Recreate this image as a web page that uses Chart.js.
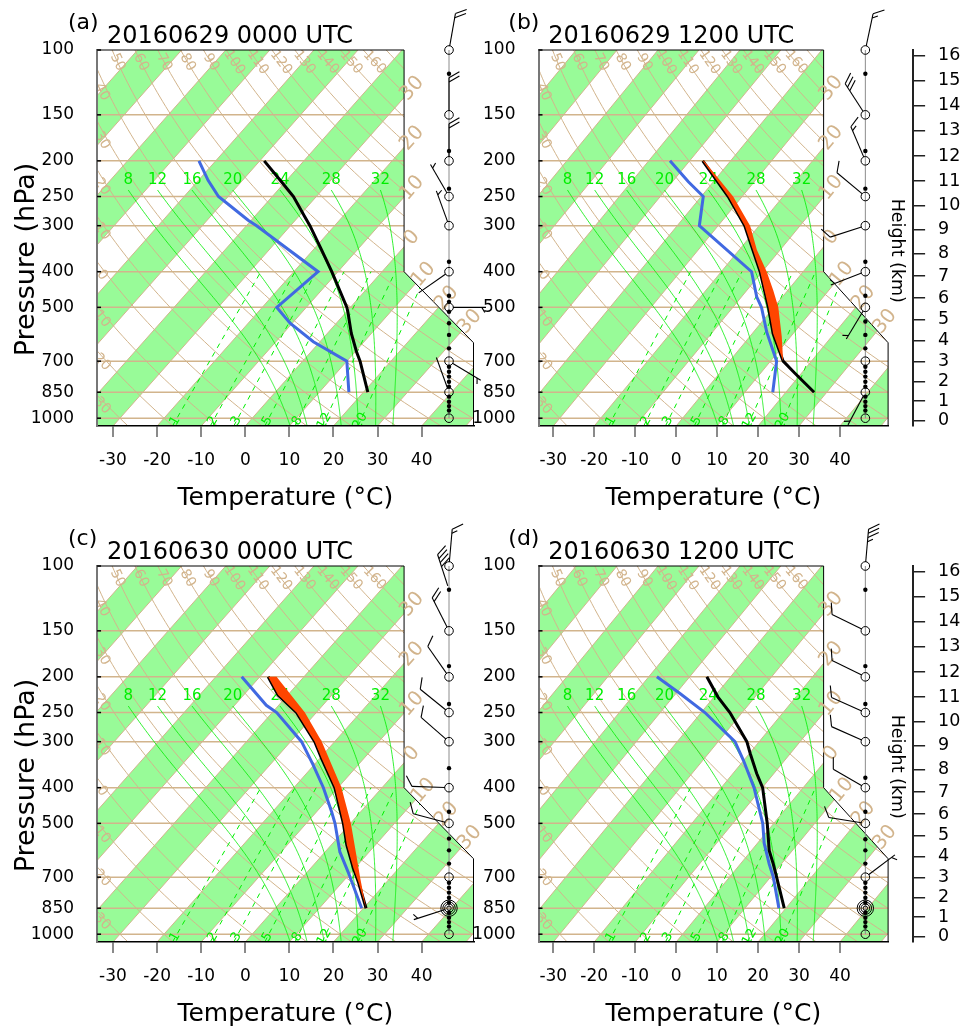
<!DOCTYPE html>
<html><head><meta charset="utf-8">
<script src="https://cdn.jsdelivr.net/npm/chart.js@4.4.1/dist/chart.umd.min.js"></script>
<style>
html,body{margin:0;padding:0;background:#fff;}
#wrap{position:relative;width:972px;height:1032px;overflow:hidden;background:#fff;}
canvas{position:absolute;}
</style></head><body><div id="wrap">
<canvas id="ca" width="486" height="516" style="left:0;top:0"></canvas>
<canvas id="cb" width="506" height="516" style="left:466px;top:0"></canvas>
<canvas id="cc" width="486" height="516" style="left:0;top:516px"></canvas>
<canvas id="cd" width="506" height="516" style="left:466px;top:516px"></canvas>
</div>
<script>
// ================= DATA =================
const pressureTicks = [100, 150, 200, 250, 300, 400, 500, 700, 850, 1000];
const temperatureTicks = [-30, -20, -10, 0, 10, 20, 30, 40];
const heightTicksKm = [0, 1, 2, 3, 4, 5, 6, 7, 8, 9, 10, 11, 12, 13, 14, 15, 16];
const heightTickPressures = [1013.25, 898.76, 795.01, 701.21, 616.60, 540.48, 472.17, 411.05, 356.51, 308.00, 264.99, 226.99, 193.99, 165.79, 141.70, 121.11, 103.52];

const mixingRatioLines = [1, 2, 3, 5, 8, 12, 20];          // g/kg
const moistAdiabatLines = [8, 12, 16, 20, 24, 28, 32];      // theta-w (C)
const dryAdiabatLeftLabels = [-30, -20, -10, 0, 10, 20, 30, 40];
const dryAdiabatTopLabels = [50, 60, 70, 80, 90, 100, 110, 120, 130, 140, 150, 160];
const isothermEdgeLabels = [-30, -20, -10, 0, 10, 20, 30];
const ringLevels = [100, 150, 200, 250, 300, 400, 500, 700, 850, 1000];

// (a) 20160629 0000 UTC
const presA = [850, 700, 660, 588, 518, 500, 400, 349, 300, 284, 250, 229, 200];
const tempA = [21.0, 13.0, 10.3, 5.4, 0.6, -0.8, -11.4, -18.1, -25.6, -28.5, -35.2, -40.6, -49.0];
const dewPresA = [850, 700, 620, 552, 500, 400, 300, 290, 250, 226, 200];
const dewA = [16.7, 10.0, -1.5, -10.5, -16.7, -14.5, -37.7, -40.7, -52.2, -57.8, -63.8];
const windPresA = [100, 150, 200, 250, 300, 400, 500, 700, 850];
const windDirA = [10, 0, 0, 330, 340, 235, 90, 121, 340];
const windSpdA = [20, 20, 20, 5, 5, 2, 5, 5, 2];
const dotPresA = [116, 188, 238, 376, 465, 483, 514, 552, 594, 646, 725, 748, 771, 796, 821, 874, 902, 927, 953];

// (b) 20160629 1200 UTC
const presB = [850, 755, 700, 589, 500, 400, 300, 250, 200];
const tempB = [26.9, 18.4, 13.1, 5.1, -1.3, -10.5, -23.5, -33.4, -46.8];
const dewPresB = [850, 700, 583, 500, 468, 400, 300, 250, 228, 200];
const dewB = [16.8, 11.5, 3.2, -3.0, -6.3, -12.6, -34.6, -39.5, -46.1, -54.8];
const parcelPresB = [700, 600, 500, 449, 400, 349, 300, 250, 200];
const parcelB = [13.1, 7.8, 1.1, -3.6, -8.9, -15.7, -22.2, -32.2, -46.5];
const windPresB = [100, 150, 200, 250, 300, 400, 500, 850];
const windDirB = [12, 327, 337, 310, 252, 249, 211, 208];
const windSpdB = [15, 30, 15, 10, 10, 5, 5, 5];
const dotPresB = [116, 188, 238, 376, 465, 546, 594, 646, 725, 748, 771, 796, 821, 874, 902, 927, 953];

// (c) 20160630 0000 UTC
const presC = [850, 720, 662, 572, 500, 400, 333, 300, 250, 224, 200];
const tempC = [20.6, 13.5, 9.7, 3.5, -1.6, -10.7, -19.6, -24.5, -34.5, -42.2, -48.1];
const dewPresC = [850, 677, 597, 500, 465, 400, 347, 300, 250, 239, 200];
const dewC = [19.6, 9.2, 3.3, -3.5, -6.6, -13.3, -20.2, -27.5, -39.0, -42.8, -54.1];
const parcelPresC = [850, 700, 600, 500, 400, 300, 250, 200];
const parcelC = [20.6, 13.0, 7.1, 0.1, -9.2, -22.9, -32.6, -46.2];
const windPresC = [100, 116, 150, 200, 250, 300, 400, 500, 850];
const windDirC = [5, 342, 333, 325, 309, 311, 272, 285, 252];
const windSpdC = [15, 40, 20, 10, 10, 10, 10, 10, 5];
const dotPresC = [116, 187, 237, 354, 465, 550, 592, 643, 725, 748, 771, 796, 821, 874, 902, 927, 953];

// (d) 20160630 1200 UTC
const presD = [850, 700, 644, 592, 500, 400, 366, 323, 300, 250, 227, 200];
const tempD = [19.6, 11.5, 8.0, 4.3, -1.6, -9.9, -14.2, -19.8, -23.0, -33.0, -39.0, -45.8];
const dewPresD = [850, 700, 644, 567, 500, 400, 337, 300, 250, 222, 200];
const dewD = [18.3, 10.7, 7.0, 1.7, -2.7, -12.0, -20.1, -25.9, -39.1, -49.0, -58.0];
const windPresD = [100, 150, 200, 250, 300, 400, 500, 700];
const windDirD = [5, 296, 296, 294, 294, 300, 279, 53];
const windSpdD = [35, 10, 10, 10, 10, 10, 10, 5];
const dotPresD = [116, 187, 237, 376, 465, 552, 592, 643, 725, 748, 771, 796, 821, 874, 902, 927, 953];

// ================= GEOMETRY / STYLE =================
const SK = 74.0, PB = 1050;
const XMIN = -33.615, XMAX = 51.755, XCUT = 36.01;
const PTOP = 100, PBOT = 1050, PCUT1 = 400, PCUT2 = 623.8;
const BARB_X = 46.2;
const TAN = '#D2B48C', BAND = '#98FB98', GREEN = '#00EE00';
const FONT = '"DejaVu Sans", sans-serif';
Chart.defaults.font.family = FONT;
const skewX = (T, p) => T + SK * Math.log10(PB / p);

function tmr(w, p) {
  const x = Math.log10(w * p / (622 + w));
  return Math.pow(10, 0.0498646455 * x + 2.4082965) - 7.07475 + 38.9114 * Math.pow(Math.pow(10, 0.0915 * x) - 1.2035, 2) - 273.15;
}
function esat(Tc) { return 6.112 * Math.exp(17.67 * Tc / (Tc + 243.5)); }
function dTdp(TK, p) {
  const Rd = 287.04, cp = 1005.7, L = 2.501e6, eps = 0.622;
  const es = esat(TK - 273.15), rs = eps * es / (p - es);
  return (Rd * TK + L * rs) / (p * (cp + L * L * rs * eps / (Rd * TK * TK)));
}
function rk4(T, p, h) {
  const k1 = dTdp(T, p), k2 = dTdp(T + h * k1 / 2, p + h / 2), k3 = dTdp(T + h * k2 / 2, p + h / 2), k4 = dTdp(T + h * k3, p + h);
  return T + h * (k1 + 2 * k2 + 2 * k3 + k4) / 6;
}
function moistPath(thw, pTop) {
  let T = thw + 273.15, p = 1000;
  while (p < PBOT - 1e-9) { const h = Math.min(5, PBOT - p); T = rk4(T, p, h); p += h; }
  const out = [[T - 273.15, p]];
  while (p > pTop + 1e-9) { const h = -Math.min(5, p - pTop); T = rk4(T, p, h); p += h; out.push([T - 273.15, p]); }
  return out;
}
const dryT = (th, p) => (th + 273.15) * Math.pow(p / 1000, 0.2857) - 273.15;

function path(ctx, pts, close) {
  ctx.beginPath();
  pts.forEach((q, i) => i ? ctx.lineTo(q[0], q[1]) : ctx.moveTo(q[0], q[1]));
  if (close) ctx.closePath();
}
function rotText(ctx, txt, x, y, ang, font, color) {
  ctx.save(); ctx.translate(x, y); ctx.rotate(ang);
  ctx.font = font; ctx.fillStyle = color; ctx.textAlign = 'center'; ctx.textBaseline = 'middle';
  ctx.fillText(txt, 0, 0); ctx.restore();
}
function intersect(A, B, C, D) {
  const d = (A[0] - B[0]) * (C[1] - D[1]) - (A[1] - B[1]) * (C[0] - D[0]);
  const t = ((A[0] - C[0]) * (C[1] - D[1]) - (A[1] - C[1]) * (C[0] - D[0])) / d;
  return [A[0] + t * (B[0] - A[0]), A[1] + t * (B[1] - A[1])];
}
function drawBarb(ctx, x0, y0, dir, spd) {
  const R0 = 4, L = 37, F = 12, SP = 4.2;
  const a = dir * Math.PI / 180;
  const ux = Math.sin(a), uy = -Math.cos(a);
  const r = 60 * Math.PI / 180;
  const fx = ux * Math.cos(r) - uy * Math.sin(r), fy = ux * Math.sin(r) + uy * Math.cos(r);
  const tx = x0 + ux * L, ty = y0 + uy * L;
  ctx.beginPath(); ctx.moveTo(x0 + ux * R0, y0 + uy * R0); ctx.lineTo(tx, ty); ctx.stroke();
  let s = Math.round(spd / 5) * 5, d = 0;
  while (s >= 50) {
    const bx = tx - ux * d, by = ty - uy * d;
    ctx.beginPath(); ctx.moveTo(bx, by); ctx.lineTo(bx + fx * F, by + fy * F); ctx.lineTo(bx - ux * SP * 1.5, by - uy * SP * 1.5); ctx.closePath(); ctx.fill();
    d += SP * 2; s -= 50;
  }
  while (s >= 10) {
    const bx = tx - ux * d, by = ty - uy * d;
    ctx.beginPath(); ctx.moveTo(bx, by); ctx.lineTo(bx + fx * F, by + fy * F); ctx.stroke();
    d += SP; s -= 10;
  }
  if (s >= 5) {
    if (d === 0) d = SP;
    const bx = tx - ux * d, by = ty - uy * d;
    ctx.beginPath(); ctx.moveTo(bx, by); ctx.lineTo(bx + fx * F / 2, by + fy * F / 2); ctx.stroke();
  }
}

// ================= PANELS =================
const PANELS = {
  ca: { tag: '(a)', title: '20160629 0000 UTC', tagX: 68, titleX: 107, left: 97.06, right: 473.5, width: 486, heightAxis: false, presTitle: true,
        windP: windPresA, windD: windDirA, windS: windSpdA, dots: dotPresA, multiRing: null },
  cb: { tag: '(b)', title: '20160629 1200 UTC', tagX: 42.3, titleX: 82.3, left: 72.5, right: 422.1, width: 506, heightAxis: true, presTitle: false,
        windP: windPresB, windD: windDirB, windS: windSpdB, dots: dotPresB, multiRing: null },
  cc: { tag: '(c)', title: '20160630 0000 UTC', tagX: 68, titleX: 107, left: 97.06, right: 473.5, width: 486, heightAxis: false, presTitle: true,
        windP: windPresC, windD: windDirC, windS: windSpdC, dots: dotPresC, multiRing: 850 },
  cd: { tag: '(d)', title: '20160630 1200 UTC', tagX: 42.3, titleX: 82.3, left: 72.5, right: 422.1, width: 506, heightAxis: true, presTitle: false,
        windP: windPresD, windD: windDirD, windS: windSpdD, dots: dotPresD, multiRing: 850 }
};

const skewPlugin = {
  id: 'skewBackground',
  beforeDraw(chart) {
    const ctx = chart.ctx;
    const xs = chart.scales.x, ys = chart.scales.y;
    const px = (X, p) => [xs.getPixelForValue(X), ys.getPixelForValue(p)];
    const pt = (T, p) => px(skewX(T, p), p);
    ctx.save();
    const outline = [px(XMIN, PBOT), px(XMAX, PBOT), px(XMAX, PCUT2), px(XCUT, PCUT1), px(XCUT, PTOP), px(XMIN, PTOP)];
    ctx.save();
    path(ctx, outline, true); ctx.fillStyle = '#fff'; ctx.fill(); ctx.clip();
    // isotherm bands
    ctx.fillStyle = BAND;
    for (let T = -120; T <= 40; T += 20) {
      path(ctx, [pt(T, PBOT), pt(T + 10, PBOT), pt(T + 10, PTOP), pt(T, PTOP)], true); ctx.fill();
    }
    ctx.strokeStyle = TAN; ctx.lineWidth = 1.5;
    for (const p of pressureTicks) { if (p === PTOP) continue; path(ctx, [px(XMIN, p), px(XMAX, p)]); ctx.stroke(); }
    ctx.lineWidth = 1;
    for (let T = -130; T <= 50; T += 10) { path(ctx, [pt(T, PBOT), pt(T, PTOP)]); ctx.stroke(); }
    const logs = []; for (let i = 0; i <= 80; i++) logs.push(PTOP * Math.pow(PBOT / PTOP, i / 80));
    for (let th = -30; th <= 200; th += 10) { path(ctx, logs.map(p => pt(dryT(th, p), p))); ctx.stroke(); }
    // moist adiabats
    ctx.strokeStyle = GREEN; ctx.lineWidth = 0.8;
    const moist = moistAdiabatLines.map(v => moistPath(v, 240));
    moist.forEach(m => { path(ctx, m.map(([T, p]) => pt(T, p))); ctx.stroke(); });
    // mixing ratio lines
    ctx.setLineDash([5, 5]); ctx.lineWidth = 1;
    for (const w of mixingRatioLines) { path(ctx, [pt(tmr(w, PBOT), PBOT), pt(tmr(w, 400), 400)]); ctx.stroke(); }
    ctx.setLineDash([]);
    // dry adiabat labels (top)
    for (const th of dryAdiabatTopLabels) {
      const p = 108; const a = pt(dryT(th, p), p), b = pt(dryT(th, p * 1.03), p * 1.03);
      rotText(ctx, String(th), a[0], a[1], Math.atan2(b[1] - a[1], b[0] - a[0]), '14px ' + FONT, TAN);
    }
    // dry adiabat labels (left)
    for (const th of dryAdiabatLeftLabels) {
      let p = 100; while (p < 1050 && skewX(dryT(th, p), p) < XMIN + 2.3) p += 1;
      const a = pt(dryT(th, p), p), b = pt(dryT(th, p * 1.03), p * 1.03);
      rotText(ctx, String(Math.abs(th)), xs.getPixelForValue(XMIN) + 5, a[1], Math.atan2(b[1] - a[1], b[0] - a[0]), '14px ' + FONT, TAN);
    }
    // moist adiabat labels
    moist.forEach((m, i) => {
      const top = m[m.length - 1];
      const q = pt(top[0], top[1]);
      ctx.font = '15px ' + FONT; ctx.fillStyle = GREEN; ctx.textAlign = 'center'; ctx.textBaseline = 'middle';
      ctx.fillText(String(moistAdiabatLines[i]), q[0], ys.getPixelForValue(225));
    });
    // mixing ratio labels
    for (const w of mixingRatioLines) {
      const p = 1018; const q = pt(tmr(w, p), p);
      rotText(ctx, String(w), q[0], q[1], -Math.PI / 3, '13px ' + FONT, GREEN);
    }
    ctx.restore();
    // outline
    ctx.strokeStyle = '#000'; ctx.lineWidth = 1;
    path(ctx, [px(XMAX, PBOT), px(XMAX, PCUT2), px(XCUT, PCUT1), px(XCUT, PTOP), px(XMIN, PTOP)]); ctx.stroke();
    // isotherm labels along the cut edge
    for (const T of isothermEdgeLabels) {
      const C = pt(T, PBOT), D = pt(T, PTOP);
      const pI = PB / Math.pow(10, (XCUT - T) / SK);
      let P1;
      if (pI <= PCUT1) P1 = px(XCUT, pI);
      else P1 = intersect(px(XCUT, PCUT1), px(XMAX, PCUT2), C, D);
      const len = Math.hypot(D[0] - C[0], D[1] - C[1]);
      const ux = (D[0] - C[0]) / len, uy = (D[1] - C[1]) / len;
      rotText(ctx, String(Math.abs(T)), P1[0] + ux * 12, P1[1] + uy * 12, Math.atan2(uy, ux), '20px ' + FONT, TAN);
    }
    ctx.restore();
  },
  afterDraw(chart) {
    const cfg = PANELS[chart.canvas.id];
    const ctx = chart.ctx;
    const xs = chart.scales.x, ys = chart.scales.y;
    ctx.save();
    // inward ticks on the pressure axis
    const lx = xs.getPixelForValue(XMIN);
    ctx.strokeStyle = '#000'; ctx.lineWidth = 1.5;
    for (const p of pressureTicks) { const y = ys.getPixelForValue(p); ctx.beginPath(); ctx.moveTo(lx, y); ctx.lineTo(lx + 4, y); ctx.stroke(); }
    // wind column
    const bx = xs.getPixelForValue(BARB_X);
    ctx.strokeStyle = '#8c8c8c'; ctx.lineWidth = 1;
    ctx.beginPath(); ctx.moveTo(bx, ys.getPixelForValue(100)); ctx.lineTo(bx, ys.getPixelForValue(1000)); ctx.stroke();
    ctx.fillStyle = '#000'; ctx.strokeStyle = '#000';
    for (const p of cfg.dots) { ctx.beginPath(); ctx.arc(bx, ys.getPixelForValue(p), 2.2, 0, 2 * Math.PI); ctx.fill(); }
    ctx.lineWidth = 1;
    for (const p of ringLevels) { ctx.beginPath(); ctx.arc(bx, ys.getPixelForValue(p), 4.3, 0, 2 * Math.PI); ctx.stroke(); }
    if (cfg.multiRing) {
      const y = ys.getPixelForValue(cfg.multiRing);
      [2.2, 6.2, 8.2].forEach(r => { ctx.beginPath(); ctx.arc(bx, y, r, 0, 2 * Math.PI); ctx.stroke(); });
    }
    ctx.lineWidth = 1.1;
    cfg.windP.forEach((p, i) => drawBarb(ctx, bx, ys.getPixelForValue(p), cfg.windD[i], cfg.windS[i]));
    // titles
    ctx.fillStyle = '#000'; ctx.textAlign = 'left'; ctx.textBaseline = 'alphabetic';
    ctx.font = '22px ' + FONT; ctx.fillText(cfg.tag, cfg.tagX, 28.5);
    ctx.font = '24px ' + FONT; ctx.fillText(cfg.title, cfg.titleX, 42.5);
    if (cfg.presTitle) rotText(ctx, 'Pressure (hPa)', 27, 259.5, -Math.PI / 2, '27px ' + FONT, '#000');
    if (cfg.heightAxis) rotText(ctx, 'Height (km)', cfg.right + 8.6, 250.8, Math.PI / 2, '17.5px ' + FONT, '#000');
    ctx.restore();
  }
};

function lineSet(pres, temps, color, width, order) {
  return { data: pres.map((p, i) => ({ x: skewX(temps[i], p), y: p })), showLine: true, borderColor: color, backgroundColor: color,
           borderWidth: width, pointRadius: 0, fill: false, order: order, tension: 0 };
}
function parcelSet(envPres, envT, parPres, parT) {
  const pts = [];
  envPres.forEach((p, i) => { if (p <= parPres[0]) pts.push({ x: skewX(envT[i], p), y: p }); });
  for (let i = parPres.length - 1; i >= 0; i--) pts.push({ x: skewX(parT[i], parPres[i]), y: parPres[i] });
  return { data: pts, showLine: true, borderWidth: 0, borderColor: 'rgba(0,0,0,0)', backgroundColor: '#FF4500', pointRadius: 0, fill: 'shape', order: 0 };
}

function makeChart(id, datasets) {
  const cfg = PANELS[id];
  const scales = {
    x: {
      type: 'linear', position: 'bottom', min: XMIN, max: XMAX, bounds: 'data',
      afterBuildTicks: s => { s.ticks = temperatureTicks.map(v => ({ value: v })); },
      afterFit: s => { s.height = 90; s.paddingLeft = 0; s.paddingRight = 0; },
      grid: { display: true, drawOnChartArea: false, drawTicks: true, tickLength: 11, color: '#8a8a8a', lineWidth: 2 },
      border: { display: true, color: '#000', width: 1.5 },
      ticks: { autoSkip: false, maxRotation: 0, minRotation: 0, color: '#000', font: { size: 17 }, padding: 13, callback: v => String(v) },
      title: { display: true, text: 'Temperature (°C)', color: '#000', font: { size: 25 }, padding: { top: 0, bottom: 3 } }
    },
    y: {
      type: 'logarithmic', position: 'left', reverse: true, min: PTOP, max: PBOT, bounds: 'data',
      afterBuildTicks: s => { s.ticks = pressureTicks.map(v => ({ value: v })); },
      afterFit: s => { s.width = cfg.left; },
      grid: { display: false },
      border: { display: true, color: '#777', width: 2 },
      ticks: { autoSkip: false, color: '#000', font: { size: 17 }, padding: 15, callback: v => String(v) }
    }
  };
  let padRight = cfg.width - cfg.right;
  if (cfg.heightAxis) {
    scales.yGap = {
      type: 'logarithmic', position: 'right', reverse: true, min: PTOP, max: PBOT, bounds: 'data', weight: 0,
      grid: { display: false }, border: { display: false }, ticks: { display: false },
      afterFit: s => { s.width = 25; }
    };
    scales.yH = {
      type: 'logarithmic', position: 'right', reverse: true, min: PTOP, max: PBOT, bounds: 'data', weight: 1,
      afterBuildTicks: s => { s.ticks = heightTickPressures.map(v => ({ value: v })); },
      afterFit: s => { s.width = 50; },
      grid: { display: true, drawOnChartArea: false, drawTicks: true, tickLength: 12, color: '#222', lineWidth: 1.5 },
      border: { display: true, color: '#222', width: 2 },
      ticks: { autoSkip: false, color: '#000', font: { size: 17.5 }, padding: 13, callback: (v, i) => String(heightTicksKm[i]) }
    };
    padRight = cfg.width - cfg.right - 75;
  }
  return new Chart(document.getElementById(id), {
    type: 'scatter',
    data: { datasets },
    options: {
      responsive: false, animation: false, devicePixelRatio: 1,
      layout: { autoPadding: false, padding: { left: 0, top: 50, right: padRight, bottom: 0 } },
      plugins: { legend: { display: false }, tooltip: { enabled: false }, title: { display: false } },
      scales
    },
    plugins: [skewPlugin]
  });
}

makeChart('ca', [
  lineSet(presA, tempA, '#000000', 3, 1),
  lineSet(dewPresA, dewA, '#4169E1', 3, 2)
]);
makeChart('cb', [
  parcelSet(presB, tempB, parcelPresB, parcelB),
  lineSet(presB, tempB, '#000000', 3, 1),
  lineSet(dewPresB, dewB, '#4169E1', 3, 2)
]);
makeChart('cc', [
  parcelSet(presC, tempC, parcelPresC, parcelC),
  lineSet(presC, tempC, '#000000', 3, 1),
  lineSet(dewPresC, dewC, '#4169E1', 3, 2)
]);
makeChart('cd', [
  lineSet(presD, tempD, '#000000', 3, 1),
  lineSet(dewPresD, dewD, '#4169E1', 3, 2)
]);
</script>
</body></html>
